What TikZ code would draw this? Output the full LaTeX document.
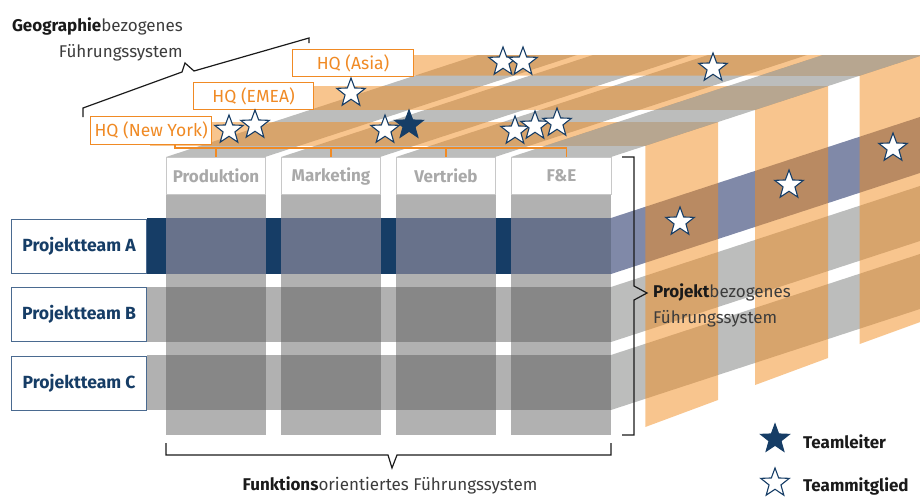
\documentclass[tikz,border=0pt]{standalone}
\usepackage{fontspec}
\setmainfont{Fira Sans}
\usetikzlibrary{shapes.geometric}
\definecolor{navy}{HTML}{163D66}
\definecolor{rowAin}{HTML}{68728B}
\definecolor{rowAside}{HTML}{8089A8}
\definecolor{colgray}{HTML}{B1B1B1}
\definecolor{rowin}{HTML}{878787}
\definecolor{topgray}{HTML}{BCBDBC}
\definecolor{geoorange}{HTML}{F28C1E}
\definecolor{hqtext}{HTML}{F08A24}
\definecolor{labgray}{HTML}{A9A9A9}
\definecolor{boxline}{HTML}{C8C8C8}
\definecolor{fetop}{HTML}{B7A690}
\definecolor{inkdark}{HTML}{1A1A1A}
\definecolor{inklight}{HTML}{3C3C3C}
\definecolor{teamline}{HTML}{4A6A90}

\begin{document}
\begin{tikzpicture}[x=1pt,y=-1pt,
  font=\fontsize{17}{20}\selectfont,
  member/.style={star, star points=5, star point ratio=2.4, minimum size=30pt,
    inner sep=0pt, draw=navy, line width=1.1pt, fill=white},
  leader/.style={member, fill=navy},
  hqbox/.style={draw=hqtext, line width=1.2pt, fill=white, text=hqtext,
    font=\fontsize{17.5}{20}\selectfont, inner sep=0pt, anchor=north west},
  teambox/.style={draw=teamline, line width=1.2pt, fill=white, text=navy,
    font=\fontsize{17.6}{20}\selectfont\bfseries, minimum width=135pt,
    minimum height=54pt, inner sep=0pt, anchor=north west},
  funcbox/.style={draw=boxline, line width=1pt, fill=white, text=labgray,
    font=\fontsize{17}{20}\selectfont\bfseries, minimum width=99pt,
    minimum height=37pt, inner sep=0pt, anchor=north west},
  geolayer/.style={fill=geoorange, fill opacity=0.5},
  hqline/.style={draw=hqtext, line width=1.2pt},
  bracket/.style={draw=inkdark, line width=1.2pt},
  label/.style={inner sep=0pt, text=inklight},
]
\useasboundingbox (0,0) rectangle (920,496);
\clip (0,0) rectangle (920,496);

% ---------- top face: function columns running into depth ----------
\fill[topgray] (166,157) -- (265,157) -- (577,55) -- (478,55) -- cycle;
\fill[topgray] (281,157) -- (380,157) -- (692,55) -- (593,55) -- cycle;
\fill[topgray] (396,157) -- (495,157) -- (807,55) -- (708,55) -- cycle;
\fill[topgray] (511,157) -- (611,157) -- (923,55) -- (823,55) -- cycle;

% ---------- right face: project rows running into depth ----------
\fill[rowAside] (611,218) -- (923,116) -- (923,172) -- (611,274) -- cycle;
\fill[topgray]  (611,287) -- (923,185) -- (923,240) -- (611,342) -- cycle;
\fill[topgray]  (611,355) -- (923,253) -- (923,308) -- (611,410) -- cycle;

% ---------- geographic layers (top band + right-side stripe) ----------
\fill[geolayer] (150,145.8) -- (645.3,145.8) -- (645.3,427) -- (718,400)
  -- (718,122) -- (150,122) -- cycle;
\fill[geolayer] (253,109.9) -- (755.1,109.9) -- (755.1,385) -- (828,358)
  -- (828,86.1) -- (253,86.1) -- cycle;
\fill[geolayer] (353,75.7) -- (859.7,75.7) -- (859.7,344) -- (923,321)
  -- (923,55) -- (353,55) -- cycle;

% F&E column top where the layers cross it
\begin{scope}
  \clip (511,157) -- (611,157) -- (923,55) -- (823,55) -- cycle;
  \fill[fetop] (500,122) rectangle (923,145.8);
  \fill[fetop] (500,86.1) rectangle (923,109.9);
  \fill[fetop] (500,55) rectangle (923,75.7);
\end{scope}

% ---------- front face ----------
\foreach \x in {166,281,396,511}
  \fill[colgray] (\x,194) rectangle ++(100,241);
\fill[navy]    (147,218) rectangle (611,274);
\fill[colgray] (147,287) rectangle (611,342);
\fill[colgray] (147,355) rectangle (611,410);
\foreach \x in {166,281,396,511} {
  \fill[rowAin] (\x,218) rectangle ++(100,56);
  \fill[rowin]  (\x,287) rectangle ++(100,55);
  \fill[rowin]  (\x,355) rectangle ++(100,55);
}

% function headers
\node[funcbox] (prod) at (166,157) {Produktion};
\node[funcbox] (mark) at (281,157) {Marketing};
\node[funcbox] (vert) at (396,157) {Vertrieb};
\node[funcbox, minimum width=100pt] (fe) at (511,157) {F\&E};

% project teams
\node[teambox] (teamA) at (11,219) {Projektteam A};
\node[teambox] (teamB) at (11,287) {Projektteam B};
\node[teambox] (teamC) at (11,356) {Projektteam C};

% headquarters
\node[hqbox, minimum width=121pt, minimum height=28pt] (hqny) at (90,116) {HQ (New York)};
\node[hqbox, minimum width=120pt, minimum height=27pt] (hqemea) at (193,82) {HQ (EMEA)};
\node[hqbox, minimum width=121pt, minimum height=27pt] (hqasia) at (292,49) {HQ (Asia)};

% HQ link down to the functions
\coordinate (bus) at (175,148);
\draw[hqline] (bus |- hqny.south) -- (bus) -- ([xshift=5pt]fe.north |- bus)
  -- ([xshift=5pt]fe.north);
\foreach \n in {prod,mark,vert}
  \draw[hqline] (\n.north |- bus) -- (\n.north);

% ---------- team members ----------
\node[member] (s1) at (229,130) {};
\node[member] (s2) at (255,125) {};
\node[member] (s3) at (385,130) {};
\node[leader] (s4) at (409,125) {};
\node[member] (s5) at (515,131) {};
\node[member] (s6) at (535,126) {};
\node[member] (s7) at (557,123) {};
\node[member] (s8) at (351,93) {};
\node[member] (s9) at (503,62) {};
\node[member] (s10) at (523,62) {};
\node[member] (s11) at (713,68) {};
\node[member] (s12) at (680,222) {};
\node[member] (s13) at (789,185) {};
\node[member] (s14) at (893,148) {};

% ---------- brackets and captions ----------
\draw[bracket] (83,117) -- (83,108) -- (182,72) -- (185,63) -- (194,71)
  -- (309,38) -- (309,43);
\node[label, anchor=base east] (geo1) at (183,31)
  {\textcolor{inkdark}{\bfseries Geographie}bezogenes};
\node[label, anchor=base east] (geo2) at (183,57) {Führungssystem};

\draw[bracket] (622,157) -- (634,157) -- (634,286) -- (647,293) -- (634,300)
  -- (634,435) -- (622,435);
\node[label, anchor=base west] (proj1) at (653,297)
  {\textcolor{inkdark}{\bfseries Projekt}bezogenes};
\node[label, anchor=base west] (proj2) at (653,323) {Führungssystem};

\draw[bracket] (166,443) -- (166,455) -- (388,455) -- (392,468) -- (397,455)
  -- (611,455) -- (611,443);
\node[label, anchor=base] (func) at (390,490)
  {\textcolor{inkdark}{\bfseries Funktions}orientiertes Führungssystem};

% ---------- legend ----------
\node[leader] (keyL) at (775,439) {};
\node[label, anchor=base west, text=inkdark, font=\fontsize{17}{20}\selectfont\bfseries]
  (keyLt) at (803,448) {Teamleiter};
\node[member] (keyM) at (775,483) {};
\node[label, anchor=base west, text=inkdark, font=\fontsize{17}{20}\selectfont\bfseries]
  (keyMt) at (803,491) {Teammitglied};
\end{tikzpicture}
\end{document}
